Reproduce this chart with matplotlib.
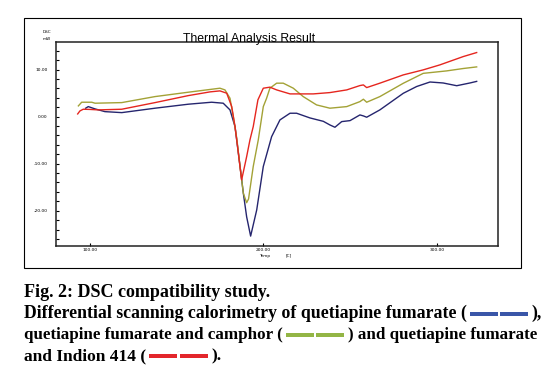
import matplotlib
matplotlib.use("Agg")
import matplotlib.pyplot as plt
from matplotlib.patches import Rectangle
from matplotlib.ticker import MultipleLocator

# ==============================================================================
# DATA
# ==============================================================================
# quetiapine fumarate (navy)
navy_t = [97.5, 99.0, 102.9, 108.6, 118.3, 137.5, 156.7, 170.1, 176.8, 180.7,
          183.6, 186.5, 188.4, 190.3, 192.6, 196.1, 199.9, 204.7, 209.5, 215.3,
          219.1, 226.8, 234.5, 238.3, 241.2, 245.1, 249.9, 255.6, 257.6, 259.5,
          267.1, 280.6, 288.3, 296.0, 303.6, 311.4, 319.0, 322.9]
navy_y = [1.79, 2.13, 1.64, 1.06, 0.85, 1.79, 2.64, 3.06, 2.85, 1.43,
          -2.13, -10.6, -16.3, -21.3, -25.4, -19.85, -10.6, -4.26, -0.70, 0.72,
          0.72, -0.28, -1.0, -1.77, -2.26, -1.06, -0.85, 0.36, 0.15, -0.13,
          1.43, 4.96, 6.40, 7.36, 7.15, 6.57, 7.15, 7.49]

# quetiapine fumarate + camphor (olive)
olive_t = [93.3, 95.2, 101.0, 102.9, 118.3, 137.5, 156.7, 174.9, 177.8, 180.7,
           182.6, 184.6, 186.5, 188.4, 190.3, 191.4, 194.1, 197.0, 199.9, 201.8,
           203.7, 207.6, 211.4, 217.2, 222.9, 230.6, 238.3, 248.0, 255.6, 257.6,
           259.5, 267.1, 280.6, 292.1, 305.6, 315.2, 322.9]
olive_y = [2.28, 3.06, 3.06, 2.85, 2.98, 4.26, 5.19, 6.04, 5.68, 3.91,
           0.0, -4.6, -10.6, -16.3, -18.3, -17.5, -10.6, -4.96, 2.13, 3.9,
           6.04, 7.11, 7.11, 6.04, 4.26, 2.49, 1.79, 2.13, 3.19, 3.70,
           3.06, 4.26, 7.09, 9.2, 9.72, 10.23, 10.57]

# quetiapine fumarate + Indion 414 (red)
red_t = [92.9, 94.2, 96.1, 100.0, 104.8, 118.3, 137.5, 156.7, 169.2, 174.9,
         178.8, 181.7, 183.6, 185.3, 187.4, 190.3, 192.2, 194.1, 196.8, 199.9,
         203.7, 207.6, 215.3, 228.7, 238.3, 248.0, 255.6, 257.6, 259.5, 267.1,
         280.6, 292.1, 301.7, 315.2, 322.9]
red_y = [0.57, 1.21, 1.57, 1.53, 1.43, 1.57, 2.98, 4.47, 5.26, 5.47,
         4.98, 2.13, -2.13, -7.09, -13.47, -8.51, -4.96, -2.13, 3.57, 6.04,
         6.26, 5.68, 4.83, 4.83, 5.11, 5.68, 6.60, 6.74, 6.17, 7.11,
         8.87, 9.94, 11.0, 12.77, 13.62]

x_ticks = [100, 200, 300]
x_labels = ["100.00", "200.00", "300.00"]
y_ticks = [-20, -10, 0, 10]
y_labels = ["-20.00", "-10.00", "0.00", "10.00"]

# ==============================================================================
# FIGURE
# ==============================================================================
W, H, DPI = 550, 369, 100
fig = plt.figure(figsize=(W / DPI, H / DPI), dpi=DPI)
fig.patch.set_facecolor("white")


def fx(px):
    return px / W


def fy(py):
    return 1 - py / H


# outer box around the instrument printout
fig.add_artist(Rectangle((fx(24), fy(268)), (521 - 24) / W, (268 - 18) / H,
                         transform=fig.transFigure, fill=False, lw=0.8, ec="black"))

ax = fig.add_axes([fx(56), fy(245.5), (498 - 56) / W, (245.5 - 42.3) / H])
ax.plot(navy_t, navy_y, color="#25256e", lw=1.0)
ax.plot(olive_t, olive_y, color="#a3a236", lw=1.0)
ax.plot(red_t, red_y, color="#e5261f", lw=1.0)

ax.set_xlim(80.4, 335.2)
ax.set_ylim(-27.4, 15.8)
ax.set_xticks(x_ticks)
ax.set_xticklabels(x_labels)
ax.set_yticks(y_ticks)
ax.set_yticklabels(y_labels)
ax.yaxis.set_minor_locator(MultipleLocator(2))
ax.tick_params(axis="both", which="both", direction="in", length=2, width=0.8,
               labelsize=3.2, pad=2)
ax.tick_params(axis="y", pad=6)
for s in ax.spines.values():
    s.set_linewidth(1.1)
    s.set_color("#222222")

fig.text(fx(47), fy(32.3), "DSC", fontsize=3, ha="center", va="center")
fig.text(fx(47), fy(39), "mW", fontsize=3, ha="center", va="center")
fig.text(fx(265), fy(255.5), "Temp", fontsize=3, ha="center", va="center")
fig.text(fx(289), fy(255.5), "[C]", fontsize=3, ha="center", va="center")

fig.text(fx(249), fy(42.3), "Thermal Analysis Result", family="Liberation Sans",
         fontsize=8.8, ha="center", va="baseline")

# ==============================================================================
# CAPTION
# ==============================================================================
CAP_FONT = "Liberation Serif"
renderer = fig.canvas.get_renderer()


def caption_line(x0, base, size, parts):
    x = x0
    for kind, val in parts:
        if kind == "t":
            t = fig.text(fx(x), fy(base), val, fontsize=size, fontweight="bold",
                         family=CAP_FONT, ha="left", va="baseline")
            x += t.get_window_extent(renderer).width
        else:
            x += 3
            for k in range(2):
                fig.add_artist(Rectangle((fx(x), fy(base - 2)), 28 / W, 4 / H,
                                         transform=fig.transFigure, color=val, lw=0))
                x += 30.5
            x += 1


caption_line(24, 297, 13.0, [("t", "Fig. 2: DSC compatibility study.")])
caption_line(24, 318, 12.75,
             [("t", "Differential scanning calorimetry of quetiapine fumarate ("),
              ("d", "#3a56a8"), ("t", "),")])
caption_line(24, 339, 12.25,
             [("t", "quetiapine fumarate and camphor ("),
              ("d", "#93b545"), ("t", ") and quetiapine fumarate")])
caption_line(24, 360, 12.5,
             [("t", "and Indion 414 ("), ("d", "#e3262b"), ("t", ").")])

fig.savefig("out.png", dpi=DPI)
